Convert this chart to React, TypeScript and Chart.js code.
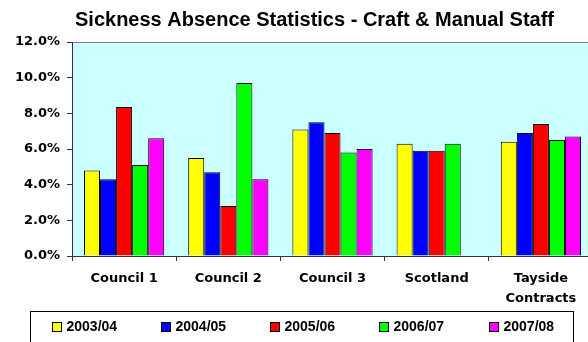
import React, { useEffect, useRef } from "react";
import { Chart, registerables } from "chart.js";

Chart.register(...registerables);

const categories: (string | string[])[] = ["Council 1", "Council 2", "Council 3", "Scotland", ["Tayside", "Contracts"]];
const seriesNames = ["2003/04", "2004/05", "2005/06", "2006/07", "2007/08"];
const seriesColors = ["#FFFF00", "#0000FF", "#FF0000", "#00FF00", "#FF00FF"];
const v2003_04 = [4.8, 5.5, 7.1, 6.3, 6.4];
const v2004_05 = [4.3, 4.7, 7.5, 5.9, 6.9];
const v2005_06 = [8.35, 2.8, 6.9, 5.9, 7.4];
const v2006_07 = [5.1, 9.7, 5.8, 6.3, 6.5];
const v2007_08 = [6.6, 4.3, 6.0, null, 6.7];
const seriesValues = [v2003_04, v2004_05, v2005_06, v2006_07, v2007_08];
const yMin = 0;
const yMax = 12;
const yStep = 2;
const title = "Sickness Absence Statistics - Craft & Manual Staff";

const axisFont = { family: "'DejaVu Sans'", size: 13, weight: "bold" as const, lineHeight: 1.54 };

const plotBg = {
  id: "plotBg",
  beforeDraw(chart: any) {
    const { ctx, chartArea: a } = chart;
    ctx.save();
    ctx.fillStyle = "#CCFFFF";
    ctx.fillRect(a.left, a.top, a.right - a.left, a.bottom - a.top);
    ctx.strokeStyle = "#808080";
    ctx.lineWidth = 1;
    ctx.strokeRect(Math.round(a.left) + 0.5, Math.round(a.top) + 0.5, a.right - a.left, a.bottom - a.top);
    ctx.restore();
  },
};

const boxLegend = {
  id: "boxLegend",
  afterDraw(chart: any) {
    const { ctx } = chart;
    ctx.save();
    ctx.strokeStyle = "#000";
    ctx.lineWidth = 1;
    ctx.strokeRect(30.5, 311.5, 543, 40);
    ctx.font = "bold 14px 'Liberation Sans', Arial, sans-serif";
    ctx.textBaseline = "middle";
    ctx.textAlign = "left";
    chart.data.datasets.forEach((ds: any, i: number) => {
      const x = Math.round(52 + i * 109.15) + 0.5;
      const y = 322.5;
      ctx.fillStyle = ds.backgroundColor;
      ctx.fillRect(x, y, 9, 9);
      ctx.strokeStyle = "#000";
      ctx.strokeRect(x, y, 9, 9);
      ctx.fillStyle = "#000";
      ctx.fillText(ds.label, x + 14, 327);
    });
    ctx.restore();
  },
};

export default function App() {
  const ref = useRef<HTMLCanvasElement>(null);
  useEffect(() => {
    const chart = new Chart(ref.current!, {
      type: "bar",
      data: {
        labels: categories,
        datasets: seriesNames.map((name, i) => ({
          label: name,
          data: seriesValues[i],
          backgroundColor: seriesColors[i],
          borderColor: "#000",
          borderWidth: 1,
          categoryPercentage: 0.77,
          barPercentage: 1.0,
        })),
      },
      options: {
        animation: false,
        responsive: true,
        maintainAspectRatio: false,
        layout: { padding: { left: 0, right: 0, top: 0, bottom: 40 } },
        plugins: {
          legend: { display: false },
          tooltip: { enabled: false },
          title: {
            display: true,
            text: title,
            color: "#000",
            font: { family: "'Liberation Sans', Arial", size: 20, weight: "bold", lineHeight: 1.2 },
            padding: { top: 8.2, bottom: 9.8 },
          },
        },
        scales: {
          x: {
            grid: { offset: true, drawOnChartArea: false, drawTicks: true, tickLength: 5, color: "#333" },
            border: { color: "#333" },
            ticks: { color: "#000", font: axisFont, padding: 8, maxRotation: 0, autoSkip: false },
            afterFit: (s: any) => { s.height = 46; },
          },
          y: {
            min: yMin,
            max: yMax,
            grid: { drawOnChartArea: false, drawTicks: true, tickLength: 5, color: "#333" },
            border: { color: "#333" },
            ticks: {
              stepSize: yStep,
              color: "#000",
              font: axisFont,
              padding: 7,
              callback: (v: any) => Number(v).toFixed(1) + "%",
            },
            afterFit: (s: any) => { s.width = 72; },
          },
          yRight: {
            position: "right",
            min: yMin,
            max: yMax,
            grid: { display: false },
            border: { display: false },
            ticks: { display: false },
            afterFit: (s: any) => { s.width = 36; },
          },
        },
      },
      plugins: [plotBg, boxLegend],
    });
    return () => chart.destroy();
  }, []);
  return (
    <div style={{ position: "fixed", left: 0, top: 0, width: 588, height: 342, overflow: "hidden", background: "#fff" }}>
      <div style={{ position: "absolute", left: 0, top: 0, width: 629, height: 342 }}>
        <canvas ref={ref} />
      </div>
    </div>
  );
}
